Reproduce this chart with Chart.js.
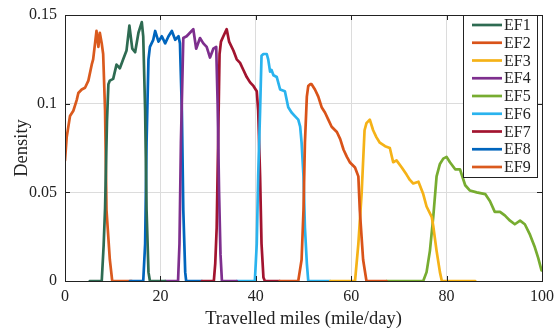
<!DOCTYPE html>
<html>
<head>
<meta charset="utf-8">
<script src="https://cdn.jsdelivr.net/npm/chart.js@4/dist/chart.umd.min.js"></script>
<style>
  html, body { margin: 0; padding: 0; background: #fff; }
  #wrap { width: 555px; height: 331px; }
</style>
</head>
<body>
<div id="wrap"><canvas id="grafica"></canvas></div>
<script>
// [miles, density] pairs for each EF curve
const ef1 = [[5.2,0],[7.7,0],[8.1,0.02],[8.4,0.041],[8.8,0.09],[9.1,0.111],[9.4,0.113],[10.1,0.114],[10.8,0.122],[11.5,0.12],[12.2,0.125],[12.9,0.13],[13.5,0.144],[14.1,0.131],[14.7,0.129],[15.4,0.14],[16.1,0.146],[16.4,0.138],[16.8,0.096],[17.1,0.04],[17.5,0.005],[17.8,0],[21,0]];
const ef2 = [[45,0],[48.9,0],[49.6,0.012],[50.0,0.04],[50.3,0.078],[50.7,0.104],[51.0,0.11],[51.4,0.111],[51.7,0.111],[52.4,0.108],[53.1,0.104],[53.8,0.098],[54.5,0.095],[55.2,0.091],[55.9,0.087],[57.0,0.084],[57.7,0.08],[58.4,0.074],[59.1,0.07],[59.7,0.067],[60.8,0.064],[61.5,0.059],[61.8,0.04],[62.5,0.012],[63.2,0],[67.4,0]];
const ef3 = [[55.6,0],[60.8,0],[61.5,0.021],[62.2,0.05],[62.8,0.085],[63.2,0.089],[63.9,0.091],[64.6,0.085],[65.3,0.081],[66.0,0.078],[67.1,0.076],[68.1,0.075],[68.8,0.067],[69.5,0.068],[70.6,0.064],[71.6,0.06],[72.3,0.057],[73.0,0.055],[74.1,0.056],[75.1,0.049],[75.8,0.042],[76.9,0.036],[77.2,0.031],[77.9,0.017],[78.6,0.005],[79.0,0],[86,0]];
const ef4 = [[21,0],[23.7,0],[24.0,0.021],[24.3,0.078],[24.7,0.125],[24.8,0.137],[25.5,0.138],[26.2,0.14],[26.9,0.142],[27.5,0.131],[28.3,0.137],[29.0,0.134],[29.7,0.132],[30.4,0.126],[31.1,0.131],[31.7,0.132],[32.0,0.1],[32.3,0.05],[32.6,0.015],[32.9,0],[36,0]];
const ef5 = [[67.4,0],[75.1,0],[75.8,0.005],[76.5,0.017],[77.2,0.036],[77.9,0.059],[78.6,0.066],[79.3,0.069],[80.0,0.07],[80.7,0.067],[81.8,0.063],[82.8,0.063],[83.9,0.054],[84.9,0.051],[86.3,0.05],[88.1,0.049],[89.1,0.045],[90.1,0.039],[91.2,0.039],[92.2,0.037],[93.3,0.034],[94.3,0.032],[95.4,0.034],[96.4,0.032],[97.5,0.026],[98.5,0.019],[99.2,0.013],[99.9,0.006]];
const ef6 = [[36,0],[39.8,0],[40.2,0.021],[40.5,0.059],[40.9,0.096],[41.2,0.127],[41.6,0.128],[42.3,0.128],[42.6,0.125],[43.0,0.118],[43.3,0.119],[43.7,0.116],[44.4,0.115],[45.1,0.108],[46.1,0.107],[46.8,0.098],[47.5,0.095],[48.2,0.093],[48.9,0.091],[49.3,0.087],[49.6,0.078],[50.0,0.059],[50.3,0.03],[50.7,0.01],[51.0,0],[55.6,0]];
const ef7 = [[28.7,0],[31.2,0],[31.5,0.01],[31.8,0.03],[32.1,0.078],[32.4,0.128],[32.7,0.135],[33.2,0.138],[33.9,0.142],[34.4,0.135],[35.3,0.13],[36.0,0.125],[36.7,0.123],[37.4,0.119],[38.1,0.115],[38.8,0.112],[39.5,0.11],[40.2,0.107],[40.5,0.096],[40.9,0.059],[41.2,0.021],[41.6,0.002],[41.9,0],[45,0]];
const ef8 = [[13.6,0],[16.4,0],[16.8,0.021],[17.1,0.078],[17.5,0.125],[17.8,0.132],[18.5,0.136],[18.9,0.141],[19.6,0.135],[20.3,0.138],[21.0,0.134],[21.7,0.138],[22.4,0.141],[23.1,0.136],[23.8,0.138],[24.1,0.134],[24.5,0.096],[24.8,0.04],[25.2,0.005],[25.4,0],[28.7,0]];
const ef9 = [[0,0.068],[0.35,0.081],[1.05,0.093],[1.75,0.096],[2.45,0.102],[2.8,0.106],[3.5,0.108],[4.2,0.109],[4.9,0.113],[5.6,0.122],[5.9,0.125],[6.3,0.134],[6.6,0.141],[7.0,0.132],[7.3,0.14],[7.7,0.134],[8.0,0.128],[8.4,0.096],[8.7,0.04],[9.4,0.012],[9.9,0],[14,0]];

const etiquetas = ["EF1","EF2","EF3","EF4","EF5","EF6","EF7","EF8","EF9"];
const series = [ef1, ef2, ef3, ef4, ef5, ef6, ef7, ef8, ef9];
const colores = ["#2E6B52","#D95319","#F5B217","#7E2F8E","#77AC30","#2AB3EE","#A2142F","#0065BD","#DA5A1E"];

const xTicks = [0, 20, 40, 60, 80, 100];
const yTicks = [0, 0.05, 0.1, 0.15];
const yTickLabels = ["0", "0.05", "0.1", "0.15"];

Chart.defaults.font.family = '"Liberation Serif", "Times New Roman", serif';
Chart.defaults.color = "#222";

// caja negra + marcas hacia adentro
const cajaEjes = {
    id: "cajaEjes",
    afterDatasetsDraw(chart) {
        const {ctx, chartArea: a, scales} = chart;
        ctx.save();
        ctx.strokeStyle = "#222";
        ctx.lineWidth = 1;
        ctx.beginPath();
        xTicks.forEach(v => {
            const px = Math.round(scales.x.getPixelForValue(v)) + 0.5;
            ctx.moveTo(px, a.bottom); ctx.lineTo(px, a.bottom - 5);
            ctx.moveTo(px, a.top); ctx.lineTo(px, a.top + 5);
        });
        yTicks.forEach(v => {
            const py = Math.round(scales.y.getPixelForValue(v)) + 0.5;
            ctx.moveTo(a.left, py); ctx.lineTo(a.left + 5, py);
            ctx.moveTo(a.right, py); ctx.lineTo(a.right - 5, py);
        });
        ctx.stroke();
        ctx.strokeRect(Math.round(a.left) + 0.5, Math.round(a.top) + 0.5,
            Math.round(a.right - a.left), Math.round(a.bottom - a.top));
        ctx.restore();
    }
};

// leyenda dentro del area, arriba a la derecha
const leyenda = {
    id: "leyenda",
    afterDraw(chart) {
        const {ctx, chartArea: a} = chart;
        const w = 74, h = 162;
        const x0 = a.right - 5 - w, y0 = a.top;
        ctx.save();
        ctx.fillStyle = "#fff";
        ctx.fillRect(x0, y0, w, h);
        ctx.strokeStyle = "#222";
        ctx.lineWidth = 1;
        ctx.strokeRect(x0 + 0.5, y0 + 0.5, w, h);
        ctx.font = '16px "Liberation Serif", serif';
        ctx.textBaseline = "middle";
        chart.data.datasets.forEach((ds, i) => {
            const y = y0 + 10 + i * 17.75;
            ctx.strokeStyle = ds.borderColor;
            ctx.lineWidth = 2.7;
            ctx.beginPath();
            ctx.moveTo(x0 + 9, y);
            ctx.lineTo(x0 + 39, y);
            ctx.stroke();
            ctx.fillStyle = "#222";
            ctx.fillText(ds.label, x0 + 41, y + 1);
        });
        ctx.restore();
    }
};

new Chart(document.getElementById("grafica"), {
    type: "line",
    data: {
        datasets: series.map((s, i) => ({
            label: etiquetas[i],
            data: s.map(p => ({x: p[0], y: p[1]})),
            borderColor: colores[i],
            backgroundColor: colores[i],
            borderWidth: 2.7,
            borderJoinStyle: "round",
            borderCapStyle: "round",
            pointRadius: 0,
            tension: 0,
            fill: false
        }))
    },
    options: {
        responsive: true,
        maintainAspectRatio: false,
        animation: false,
        layout: { padding: { left: 0, top: 15, right: 13, bottom: 0 } },
        plugins: {
            legend: { display: false },
            tooltip: { enabled: false }
        },
        scales: {
            x: {
                type: "linear",
                min: 0,
                max: 100,
                afterBuildTicks: s => { s.ticks = xTicks.map(v => ({value: v})); },
                afterFit: s => { s.height = 50; s.paddingLeft = 0; s.paddingRight = 0; },
                grid: { color: "#dcdcdc", drawTicks: false },
                border: { display: false },
                ticks: { font: { size: 16 }, padding: 6, maxRotation: 0 },
                title: {
                    display: true,
                    text: "Travelled miles (mile/day)",
                    font: { size: 18.5 },
                    padding: { top: 0, bottom: 1 }
                }
            },
            y: {
                min: 0,
                max: 0.15,
                afterBuildTicks: s => { s.ticks = yTicks.map(v => ({value: v})); },
                afterFit: s => { s.width = 65; s.paddingTop = 0; s.paddingBottom = 0; },
                grid: { color: "#dcdcdc", drawTicks: false },
                border: { display: false },
                ticks: {
                    font: { size: 16 },
                    padding: 8,
                    callback: (v, i) => yTickLabels[i]
                },
                title: {
                    display: true,
                    text: "Density",
                    font: { size: 18.5 },
                    padding: { top: 11, bottom: 0 }
                }
            }
        }
    },
    plugins: [cajaEjes, leyenda]
});
</script>
</body>
</html>
